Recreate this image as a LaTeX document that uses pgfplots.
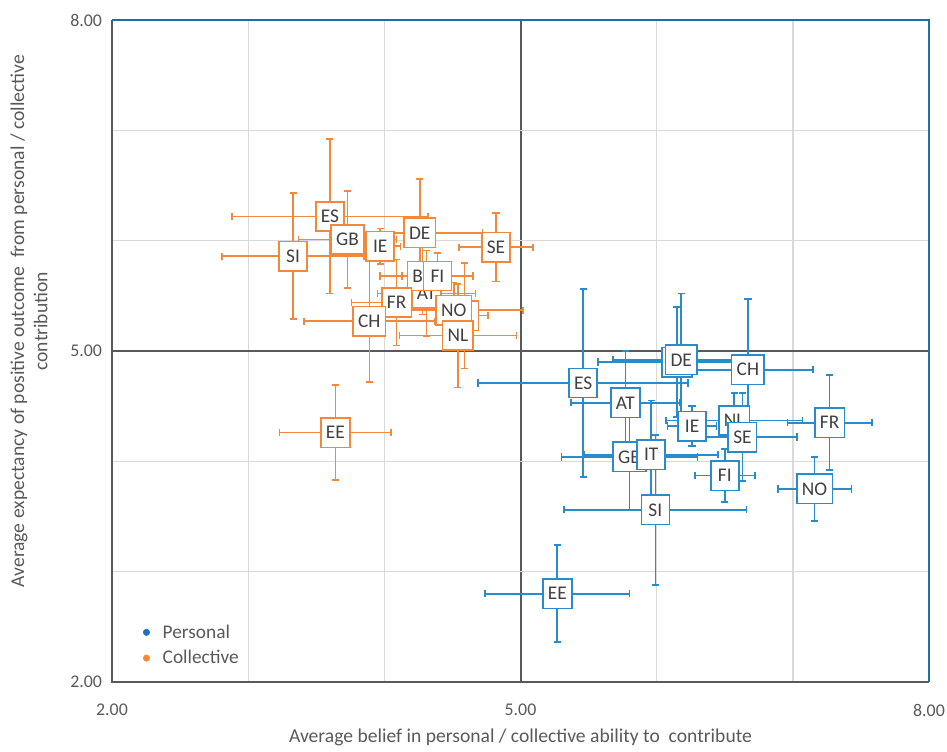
\documentclass[border=0pt]{standalone}
\usepackage{pgfplots}
\pgfplotsset{compat=1.18}
\usepackage{pgfplotstable}
\usepackage{fontspec}
\setmainfont{Carlito}
\definecolor{pblue}{HTML}{2A8BCB}
\definecolor{corange}{HTML}{F4883A}
\definecolor{tgray}{HTML}{595959}
\definecolor{dgray}{HTML}{404040}
\definecolor{lgray}{HTML}{D9D9D9}
\definecolor{frameblue}{HTML}{1F6EA6}
\definecolor{legblue}{HTML}{1F6FC5}

\pgfplotstableread{
lab x y ex ey
BE 6.15 4.90 0.58 0.50
DE 6.18 4.92 0.50 0.60
ES 5.46 4.71 0.77 0.85
AT 5.77 4.53 0.40 0.47
CH 6.67 4.83 0.48 0.64
IE 6.26 4.32 0.18 0.18
NL 6.57 4.37 0.50 0.25
SE 6.63 4.22 0.40 0.40
FR 7.27 4.35 0.31 0.43
GB 5.80 4.04 0.50 0.48
IT 5.96 4.06 0.49 0.49
FI 6.50 3.87 0.22 0.24
NO 7.16 3.75 0.27 0.29
SI 5.99 3.56 0.67 0.68
EE 5.27 2.80 0.53 0.44
}\personal

\pgfplotstableread{
lab x y ex ey
ES 3.60 6.22 0.72 0.70
SI 3.33 5.86 0.52 0.57
GB 3.73 6.01 0.36 0.44
IE 3.97 5.95 0.15 0.16
DE 4.26 6.07 0.46 0.49
SE 4.82 5.94 0.27 0.31
AT 4.31 5.52 0.36 0.39
BE 4.28 5.68 0.31 0.35
FI 4.39 5.68 0.26 0.21
FR 4.09 5.44 0.33 0.39
CH 3.89 5.27 0.48 0.55
IT 4.59 5.32 0.17 0.48
NO 4.51 5.37 0.51 0.25
NL 4.54 5.14 0.43 0.47
EE 3.64 4.26 0.41 0.43
}\collective

\pgfplotsset{
  errbars/.style={only marks, mark=none, forget plot,
    error bars/.cd, x dir=both, x explicit, y dir=both, y explicit,
    error bar style={line width=1.2pt, #1}, error mark=none},
  vcap/.style={only marks, forget plot, mark=|, mark size=2.7pt, mark options={draw=#1, line width=1.2pt}},
  hcap/.style={only marks, forget plot, mark=-, mark size=2.7pt, mark options={draw=#1, line width=1.2pt}},
  lbl/.style={only marks, mark=none, forget plot, nodes near coords, point meta=explicit symbolic,
    every node near coord/.style={anchor=center, draw=#1, fill=white, line width=1.2pt,
      text=dgray, font=\fontsize{14.5}{16}\selectfont, inner xsep=3.8pt, inner ysep=0pt,
      minimum height=22pt, minimum width=21pt}},
}

\begin{document}
\begin{tikzpicture}
\begin{axis}[
  name=ax,
  width=612.75pt, height=496.5pt, scale only axis,
  xmin=2, xmax=8, ymin=2, ymax=8,
  xtick={5}, ytick={5},
  xticklabels={5.00}, yticklabels={5.00},
  extra x ticks={2,8}, extra y ticks={2,8},
  extra x tick labels={2.00,8.00}, extra y tick labels={2.00,8.00},
  extra tick style={grid=none},
  minor xtick={3,4,6,7}, minor ytick={3,4,6,7},
  grid=both,
  major grid style={tgray, line width=1.5pt},
  minor grid style={lgray, line width=1pt},
  major tick length=0pt, minor tick length=0pt,
  axis line style={draw=none},
  ticklabel style={font=\fontsize{13.4}{16}\selectfont, text=tgray},
  xticklabel style={yshift=-13pt},
  yticklabel style={xshift=-4pt},
  xlabel={Average belief in personal / collective ability to\ \ contribute},
  ylabel={Average expectancy of positive outcome\ \ from personal / collective\\contribution},
  label style={font=\fontsize{14.7}{17.5}\selectfont, text=tgray, align=center},
  xlabel style={at={(axis description cs:0.5,-0.0831)}, anchor=center},
  ylabel style={at={(axis description cs:-0.1016,0.545)}, anchor=center},
  legend style={at={(axis description cs:0.036,0.018)}, anchor=south west,
    draw=none, fill=none, font=\fontsize{14.5}{17}\selectfont, text=tgray,
    row sep=3.75pt, inner sep=1pt},
  legend cell align=left,
  clip=false,
]
\addlegendimage{legend image code/.code={\fill[legblue] (0,0) circle (2.4pt); \path (10pt,0);}}
\addlegendentry{Personal}
\addlegendimage{legend image code/.code={\fill[corange] (0,0) circle (2.4pt); \path (10pt,0);}}
\addlegendentry{Collective}

% Personal error bars and caps
\addplot[errbars=pblue] table[x=x, y=y, x error=ex, y error=ey]{\personal};
\addplot[vcap=pblue] table[x expr=\thisrow{x}-\thisrow{ex}, y=y]{\personal};
\addplot[vcap=pblue] table[x expr=\thisrow{x}+\thisrow{ex}, y=y]{\personal};
\addplot[hcap=pblue] table[x=x, y expr=\thisrow{y}-\thisrow{ey}]{\personal};
\addplot[hcap=pblue] table[x=x, y expr=\thisrow{y}+\thisrow{ey}]{\personal};

% Collective error bars and caps
\addplot[errbars=corange] table[x=x, y=y, x error=ex, y error=ey]{\collective};
\addplot[vcap=corange] table[x expr=\thisrow{x}-\thisrow{ex}, y=y]{\collective};
\addplot[vcap=corange] table[x expr=\thisrow{x}+\thisrow{ex}, y=y]{\collective};
\addplot[hcap=corange] table[x=x, y expr=\thisrow{y}-\thisrow{ey}]{\collective};
\addplot[hcap=corange] table[x=x, y expr=\thisrow{y}+\thisrow{ey}]{\collective};

% Labels
\addplot[lbl=pblue] table[x=x, y=y, meta=lab]{\personal};
\addplot[lbl=corange] table[x=x, y=y, meta=lab]{\collective};

\draw[tgray, line width=1.5pt] (rel axis cs:0,1) -- (rel axis cs:0,0) -- (rel axis cs:1,0);
\draw[frameblue, line width=1.5pt] (rel axis cs:0,1) -- (rel axis cs:1,1) -- (rel axis cs:1,0);
\end{axis}
\pgfresetboundingbox
\path[use as bounding box] ([xshift=-84pt,yshift=-51.75pt]ax.south west) rectangle ([xshift=13.5pt,yshift=15pt]ax.north east);
\end{tikzpicture}
\end{document}
